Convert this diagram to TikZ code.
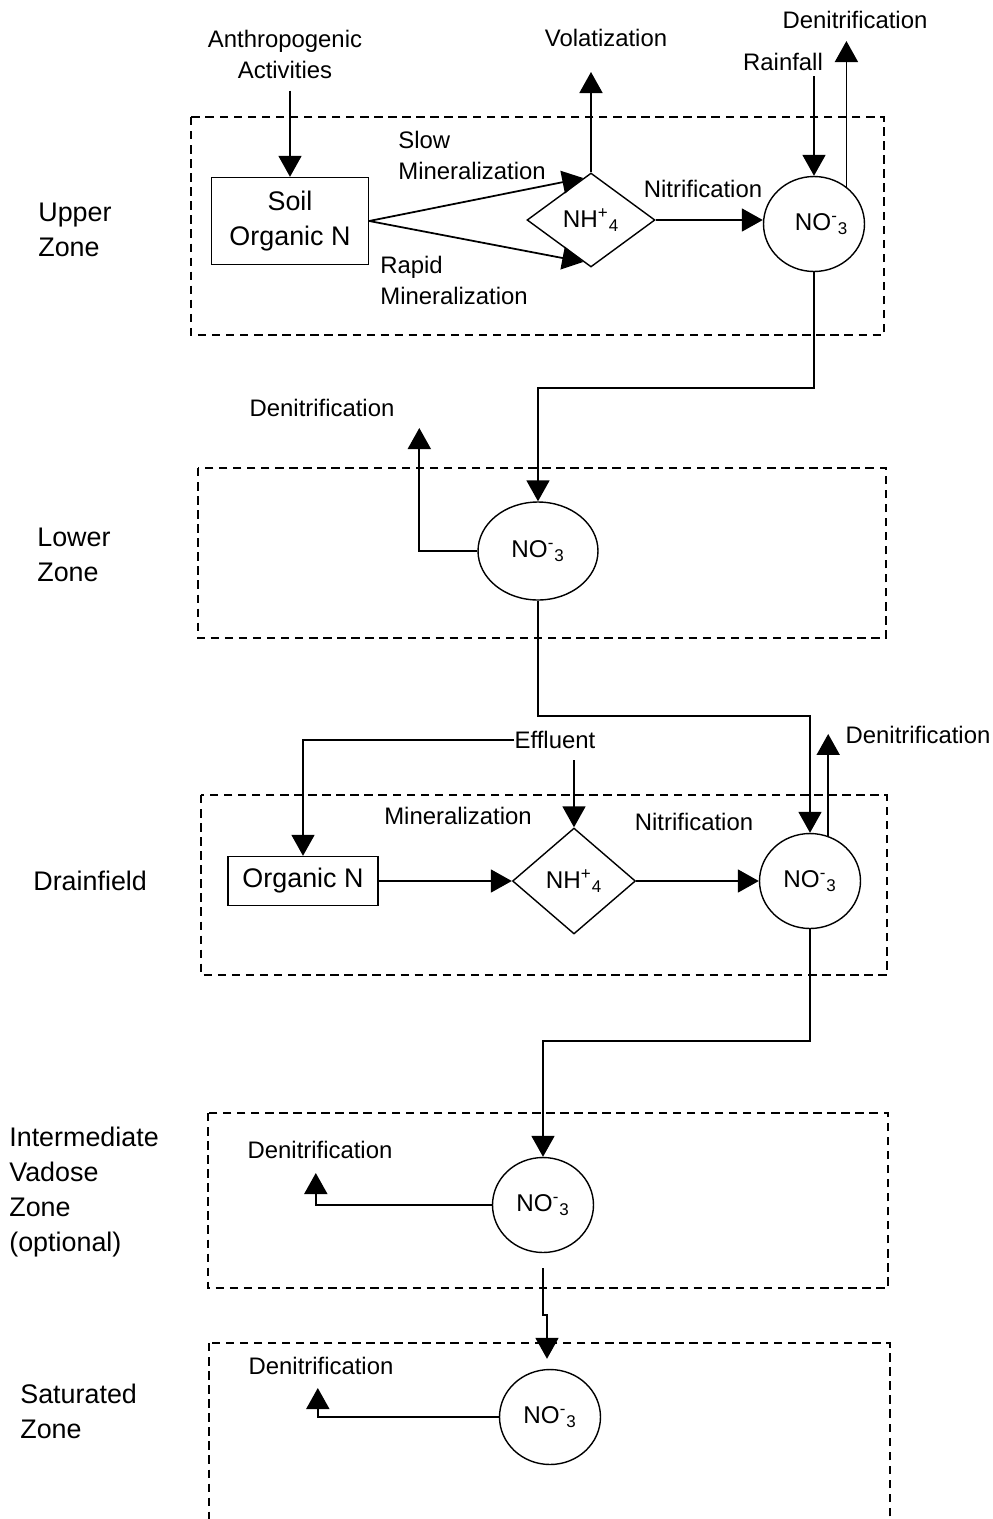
\documentclass[tikz,border=0pt]{standalone}
\usepackage{fontspec}
\setmainfont{Liberation Sans}
\usetikzlibrary{shapes.geometric,arrows.meta,positioning,calc}
\newcommand{\nothree}{NO\textsuperscript{-}\textsubscript{3}}
\newcommand{\nhfour}{NH\textsuperscript{+}\textsubscript{4}}

\begin{document}
\begin{tikzpicture}[
  x=0.02cm,y=-0.02cm,
  lbl/.style={inner sep=0pt,align=center,font=\fontsize{13.6}{17.6}\selectfont},
  zone/.style={inner sep=0pt,anchor=west,align=left,font=\fontsize{15.3}{19.8}\selectfont},
  zonebox/.style={line width=1.5pt,dash pattern=on 4.8pt off 3.2pt},
  pool/.style={draw,line width=0.8pt,inner sep=2pt,align=center,
               font=\fontsize{15.3}{20.4}\selectfont},
  ammon/.style={diamond,draw,line width=0.8pt,inner sep=0pt,
                font=\fontsize{13.8}{17}\selectfont},
  nitrate/.style={ellipse,draw,line width=0.8pt,inner sep=0pt,minimum width=2.02cm,
                  minimum height=1.9cm,font=\fontsize{13.8}{17}\selectfont},
  fl/.style={-{Triangle[length=0.42cm,width=0.46cm]},line width=1pt},
  ]
  \useasboundingbox (0,0) rectangle (993,1519);

  % zones
  \draw[zonebox] (191,117) rectangle (884,335);
  \draw[zonebox] (198,468) rectangle (886,638);
  \draw[zonebox] (201,795) rectangle (887,975);
  \draw[zonebox] (208,1113) rectangle (888,1288);
  \draw[zonebox] (209,1343) rectangle (890,1560);

  \node[zone] (zUpper) at (38,230) {Upper\\Zone};
  \node[zone] (zLower) at (37,555) {Lower\\Zone};
  \node[zone] (zDrain) at (33,881) {Drainfield};
  \node[zone] (zInter) at (9,1192) {Intermediate\\Vadose\\Zone\\(optional)};
  \node[zone] (zSat) at (20,1411) {Saturated\\Zone};

  % upper zone
  \node[pool,minimum width=3.14cm,minimum height=1.74cm] (soil) at (290,221) {Soil\\Organic N};
  \node[ammon,minimum width=2.56cm,minimum height=1.88cm] (nh1) at (591,220) {\nhfour};
  \node[nitrate] (no1) at (814,224) {\hspace{0.3cm}\nothree};

  \node[lbl] (anthro) at (285,54) {Anthropogenic\\Activities};
  \node[lbl] (volat) at (606,38) {Volatization};
  \node[lbl] (den1) at (855,20) {Denitrification};
  \node[lbl] (rain) at (783,62) {Rainfall};
  \node[lbl,anchor=west,align=left] (slow) at (398,155) {Slow\\Mineralization};
  \node[lbl,anchor=west,align=left] (rapid) at (380,280) {Rapid\\Mineralization};
  \node[lbl] (nit1) at (703,189) {Nitrification};

  \coordinate (volTip) at (591,72);
  \coordinate (den1Tip) at (846,41);

  \draw[fl,shorten <=0.24cm] (soil.north |- anthro.south) -- (soil.north);
  \draw[fl] (soil.east) -- ($(nh1.north)!0.12!(nh1.west)$);
  \draw[fl] (soil.east) -- ($(nh1.south)!0.12!(nh1.west)$);
  \draw[fl] (nh1.north) -- (volTip);
  \draw[fl] (nh1.east) -- (nh1.east -| no1.west);
  \draw[fl,shorten <=0.1cm] (no1.north |- rain.south) -- (no1.north);
  \draw[fl] (no1.49) -- (no1.49 |- den1Tip);

  % lower zone
  \node[nitrate,minimum width=2.4cm,minimum height=1.96cm] (no2) at (538,551) {\nothree};
  \node[lbl] (den2) at (322,408) {Denitrification};

  \draw[fl] (no1.south) -- ++(0,116) -| (no2.north);
  \draw[fl] (no2.west) -- ++(-58,0) -- ++(0,-123);

  % drainfield
  \node[pool,minimum width=3cm,minimum height=0.98cm] (orgN) at (303,881) {Organic N};
  \node[ammon,minimum width=2.46cm,minimum height=2.12cm] (nh2) at (574,881) {\nhfour};
  \node[nitrate] (no3) at (810,881) {\nothree};

  \node[lbl] (eff) at (555,740) {Effluent};
  \node[lbl] (miner) at (458,816) {Mineralization};
  \node[lbl] (nit2) at (694,822) {Nitrification};
  \node[lbl] (den3) at (918,735) {Denitrification};

  \draw[fl] (no2.south) -- ++(0,115) -| (no3.north);
  \draw[fl] (eff.west) -| (orgN.north);
  \draw[fl] ($(nh2.north |- eff.south)+(0,11)$) -- (nh2.north);
  \draw[fl] (orgN.east) -- (orgN.east -| nh2.west);
  \draw[fl] (nh2.east) -- (nh2.east -| no3.west);
  \draw[fl] (no3.68) -- ++(0,-102);

  % intermediate vadose zone
  \node[nitrate] (no4) at (543,1205) {\nothree};
  \node[lbl] (den4) at (320,1150) {Denitrification};

  \draw[fl] (no3.south) -- ++(0,112) -| (no4.north);
  \draw[fl] (no4.west) -- ++(-176,0) -- ++(0,-32);

  % saturated zone
  \node[nitrate] (no5) at (550,1417) {\nothree};
  \node[lbl] (den5) at (321,1366) {Denitrification};

  \draw[fl] (no4.south) ++(0,15) -- ++(0,47) -| ($(no5.north)+(-3,-10)$);
  \draw[fl] (no5.west) -- ++(-181,0) -- ++(0,-29);
\end{tikzpicture}
\end{document}
